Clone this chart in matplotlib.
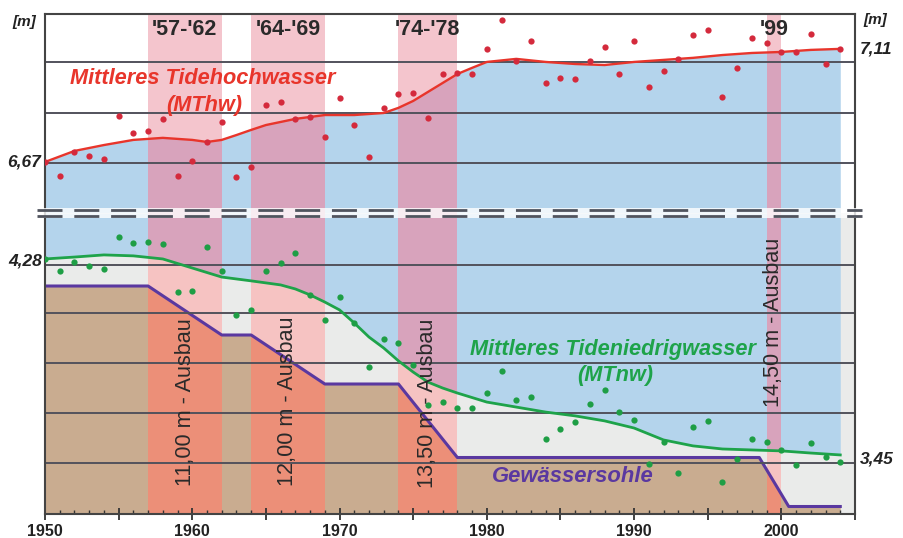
import matplotlib
matplotlib.use("Agg")
import matplotlib.pyplot as plt
from matplotlib.patches import Rectangle
from matplotlib.lines import Line2D
from matplotlib.ticker import MultipleLocator, FuncFormatter

plt.rcParams['font.family'] = ['Liberation Sans', 'DejaVu Sans']
plt.rcParams['lines.scale_dashes'] = False

# ---------------- Daten ----------------
years = list(range(1950, 2005))

# Jahreswerte MThw [m]
mthw = [6.670, 6.615, 6.709, 6.693, 6.682, 6.849, 6.783, 6.791, 6.838, 6.615,
        6.674, 6.748, 6.826, 6.612, 6.651, 6.892, 6.904, 6.838, 6.846, 6.768,
        6.920, 6.814, 6.690, 6.881, 6.935, 6.939, 6.842, 7.013, 7.017, 7.013,
        7.111, 7.224, 7.064, 7.142, 6.978, 6.998, 6.994, 7.064, 7.119, 7.013,
        7.142, 6.963, 7.025, 7.072, 7.165, 7.185, 6.924, 7.037, 7.154, 7.134,
        7.099, 7.099, 7.169, 7.052, 7.111]

# geglaetteter Verlauf MThw
mthw_trend_years = [1950, 1952, 1954, 1956, 1958, 1960, 1961, 1962, 1963, 1964,
                    1965, 1967, 1969, 1971, 1973, 1974, 1975, 1976, 1977, 1978,
                    1979, 1980, 1982, 1984, 1986, 1988, 1990, 1992, 1994, 1996,
                    1998, 2000, 2002, 2004]
mthw_trend = [6.670, 6.713, 6.736, 6.756, 6.764, 6.756, 6.748, 6.756, 6.775, 6.795,
              6.814, 6.838, 6.853, 6.853, 6.861, 6.881, 6.908, 6.943, 6.978, 7.013,
              7.037, 7.060, 7.072, 7.060, 7.052, 7.048, 7.060, 7.068, 7.076, 7.087,
              7.095, 7.099, 7.107, 7.111]

# Jahreswerte MTnw [m]
mtnw = [4.280, 4.230, 4.267, 4.251, 4.238, 4.372, 4.347, 4.351, 4.343, 4.141,
        4.146, 4.330, 4.230, 4.045, 4.066, 4.230, 4.263, 4.305, 4.129, 4.024,
        4.120, 4.011, 3.826, 3.944, 3.927, 3.835, 3.667, 3.679, 3.654, 3.654,
        3.717, 3.810, 3.688, 3.700, 3.524, 3.566, 3.595, 3.671, 3.730, 3.637,
        3.604, 3.419, 3.511, 3.381, 3.574, 3.600, 3.343, 3.440, 3.524, 3.511,
        3.478, 3.415, 3.507, 3.448, 3.427]

# geglaetteter Verlauf MTnw
mtnw_trend_years = [1950, 1952, 1954, 1956, 1958, 1960, 1962, 1964, 1966, 1967,
                    1968, 1969, 1970, 1971, 1972, 1973, 1974, 1975, 1976, 1977,
                    1978, 1980, 1982, 1984, 1986, 1988, 1990, 1992, 1994, 1996,
                    1998, 2000, 2002, 2004]
mtnw_trend = [4.280, 4.288, 4.297, 4.293, 4.280, 4.242, 4.204, 4.188, 4.171, 4.154,
              4.129, 4.099, 4.066, 4.011, 3.952, 3.906, 3.852, 3.805, 3.763, 3.738,
              3.717, 3.679, 3.658, 3.637, 3.621, 3.600, 3.570, 3.520, 3.495, 3.482,
              3.478, 3.474, 3.465, 3.457]

# Gewaessersohle (Ausbautiefe) [m]
sohle_years = [1950, 1957, 1962, 1964, 1969, 1974, 1978, 1998.5, 2000.5, 2004]
sohle_depth = [10.0, 10.0, 11.0, 11.0, 12.0, 12.0, 13.5, 13.5, 14.5, 14.5]

# Ausbauphasen
ausbau = [(1957, 1962), (1964, 1969), (1974, 1978), (1999, 2000)]
ausbau_labels = ["'57-'62", "'64-'69", "'74-'78", "'99"]
ausbau_texte = ["11,00 m - Ausbau", "12,00 m - Ausbau", "13,50 m - Ausbau", "14,50 m - Ausbau"]

# ---------------- Farben ----------------
BLUE = "#b4d4ec"
MAUVE = "#d8a3bc"
PINK = "#f4c5cd"
PINK_GRAY = "#f6c3c2"
GRAY = "#eaebea"
TAN = "#c9ac90"
SALMON = "#ec8f78"
GRID = "#52525c"
RED = "#e8352b"
RED_DOT = "#d42a3c"
GREEN = "#1ea34a"
GREEN_DOT = "#1e9e45"
PURPLE = "#5a38a0"
TEXT = "#2a2a2a"

W, H = 904, 538


def fx(px):
    return px / W


def fy(py):
    return 1 - py / H


fig = plt.figure(figsize=(W / 100, H / 100), dpi=100)

x_left, x_right, y_top, y_brk, y_bot = 45, 855, 14, 213, 514
ax_up = fig.add_axes([fx(x_left), fy(y_brk), (x_right - x_left) / W, (y_brk - y_top) / H])
ax_low = fig.add_axes([fx(x_left), fy(y_bot), (x_right - x_left) / W, (y_bot - y_brk) / H])
ax_sohle = ax_low.twinx()

up_lim = (6.471, 7.247)
low_lim = (3.209, 4.473)
sohle_lim = (14.653, 8.51)

# ================== OBEN: MThw ==================
ax_up.set_xlim(1950, 2005)
ax_up.set_ylim(*up_lim)
for a, b in ausbau:
    ax_up.axvspan(a, b, color=PINK, lw=0, zorder=0.5)
blue_up = ax_up.fill_between(mthw_trend_years, up_lim[0], mthw_trend, color=BLUE, lw=0, zorder=0.8)
for a, b in ausbau:
    r = Rectangle((a, up_lim[0]), b - a, up_lim[1] - up_lim[0], fc=MAUVE, lw=0, zorder=0.9)
    ax_up.add_patch(r)
    r.set_clip_path(blue_up.get_paths()[0], ax_up.transData)

ax_up.set_yticks([6.666, 6.861, 7.060])
ax_up.grid(axis='y', color=GRID, lw=1.4)
ax_up.tick_params(left=False, labelleft=False, bottom=False, labelbottom=False)
ax_up.plot(mthw_trend_years, mthw_trend, color=RED, lw=1.7, zorder=3)
ax_up.plot(years, mthw, 'o', ms=4.5, color=RED_DOT, mec='none', zorder=4)
ax_up.spines['bottom'].set_visible(False)
for s in ['top', 'left', 'right']:
    ax_up.spines[s].set_color('#444444')
    ax_up.spines[s].set_linewidth(1.5)

# ================== UNTEN: MTnw + Sohle ==================
ax_low.set_zorder(2)
ax_sohle.set_zorder(1)
ax_low.patch.set_visible(False)
ax_sohle.patch.set_visible(True)
ax_sohle.patch.set_facecolor(GRAY)

ax_low.set_xlim(1950, 2005)
ax_low.set_ylim(*low_lim)
ax_sohle.set_ylim(*sohle_lim)

for a, b in ausbau:
    ax_sohle.axvspan(a, b, color=PINK_GRAY, lw=0, zorder=0.5)
tan = ax_sohle.fill_between(sohle_years, sohle_depth, sohle_lim[0], color=TAN, lw=0, zorder=0.8)
for a, b in ausbau:
    r = Rectangle((a, sohle_lim[1]), b - a, sohle_lim[0] - sohle_lim[1], fc=SALMON, lw=0, zorder=0.9)
    ax_sohle.add_patch(r)
    r.set_clip_path(tan.get_paths()[0], ax_sohle.transData)
ax_sohle.plot(sohle_years, sohle_depth, color=PURPLE, lw=2.2, zorder=3)
ax_sohle.tick_params(right=False, labelright=False)
for s in ax_sohle.spines.values():
    s.set_visible(False)

blue_low = ax_low.fill_between(mtnw_trend_years, mtnw_trend, low_lim[1], color=BLUE, lw=0, zorder=0.8)
for a, b in ausbau:
    r = Rectangle((a, low_lim[0]), b - a, low_lim[1] - low_lim[0], fc=MAUVE, lw=0, zorder=0.9)
    ax_low.add_patch(r)
    r.set_clip_path(blue_low.get_paths()[0], ax_low.transData)

ax_low.set_yticks([3.423, 3.633, 3.843, 4.053, 4.255])
ax_low.grid(axis='y', color=GRID, lw=1.4)
ax_low.tick_params(axis='y', left=False, labelleft=False)
ax_low.plot(mtnw_trend_years, mtnw_trend, color=GREEN, lw=2.0, zorder=3)
ax_low.plot(years, mtnw, 'o', ms=4.5, color=GREEN_DOT, mec='none', zorder=4)

ax_low.xaxis.set_major_locator(MultipleLocator(5))
ax_low.xaxis.set_minor_locator(MultipleLocator(1))
ax_low.xaxis.set_major_formatter(FuncFormatter(lambda v, p: f"{int(v)}" if int(v) % 10 == 0 else ""))
ax_low.tick_params(axis='x', which='major', direction='inout', length=8, width=1.3,
                   color='#333333', labelsize=11.5, labelcolor='#222222', pad=3)
ax_low.tick_params(axis='x', which='minor', direction='in', length=3, width=1.0, color='#333333')
for lab in ax_low.get_xticklabels():
    lab.set_fontweight('bold')
ax_low.spines['top'].set_visible(False)
for s in ['bottom', 'left', 'right']:
    ax_low.spines[s].set_color('#444444')
    ax_low.spines[s].set_linewidth(1.5)

# ================== Achsenbruch ==================
fig.add_artist(Rectangle((fx(37), fy(218)), fx(862) - fx(37), 10 / H, transform=fig.transFigure,
                         fc='white', ec='none', alpha=0.8, zorder=5))
for yb in (209.5, 216.5):
    fig.add_artist(Line2D([fx(37), fx(862)], [fy(yb), fy(yb)], transform=fig.transFigure,
                          color='#50545e', lw=2.0, dashes=(18, 8.5), zorder=6))

# ================== Beschriftung ==================
bi = dict(fontweight='bold', fontstyle='italic')
fig.text(fx(24), fy(22), "[m]", ha='center', va='center', fontsize=11, color='#222222', **bi)
fig.text(fx(875), fy(20), "[m]", ha='center', va='center', fontsize=11, color='#222222', **bi)
fig.text(fx(41), fy(162), "6,67", ha='right', va='center', fontsize=12.5, color='#222222', **bi)
fig.text(fx(42), fy(261), "4,28", ha='right', va='center', fontsize=12.5, color='#222222', **bi)
fig.text(fx(860), fy(49), "7,11", ha='left', va='center', fontsize=12.5, color='#222222', **bi)
fig.text(fx(860), fy(459), "3,45", ha='left', va='center', fontsize=12.5, color='#222222', **bi)

for (a, b), lab in zip(ausbau, ausbau_labels):
    ax_up.text((a + b) / 2, 0.92, lab, transform=ax_up.get_xaxis_transform(),
               ha='center', va='center', fontsize=15.5, fontweight='bold', color=TEXT, zorder=7)

fig.text(fx(203), fy(78), "Mittleres Tidehochwasser", ha='center', va='center',
         fontsize=15.7, color=RED, **bi)
fig.text(fx(204), fy(105), "(MThw)", ha='center', va='center', fontsize=15.7, color=RED, **bi)
fig.text(fx(613), fy(350), "Mittleres Tideniedrigwasser", ha='center', va='center',
         fontsize=15.7, color=GREEN, **bi)
fig.text(fx(615), fy(376), "(MTnw)", ha='center', va='center', fontsize=15.7, color=GREEN, **bi)
fig.text(fx(573), fy(477), "Gewässersohle", ha='center', va='center', fontsize=15.8, color=PURPLE, **bi)

rot_pos = [(185, 402), (288, 401), (428, 403), (774, 322)]
for (px, py), txt in zip(rot_pos, ausbau_texte):
    fig.text(fx(px), fy(py), txt, rotation=90, ha='center', va='center',
             fontsize=15.6, color='#2a2a2a', zorder=7)

fig.savefig("out.png", dpi=100, facecolor='white')
